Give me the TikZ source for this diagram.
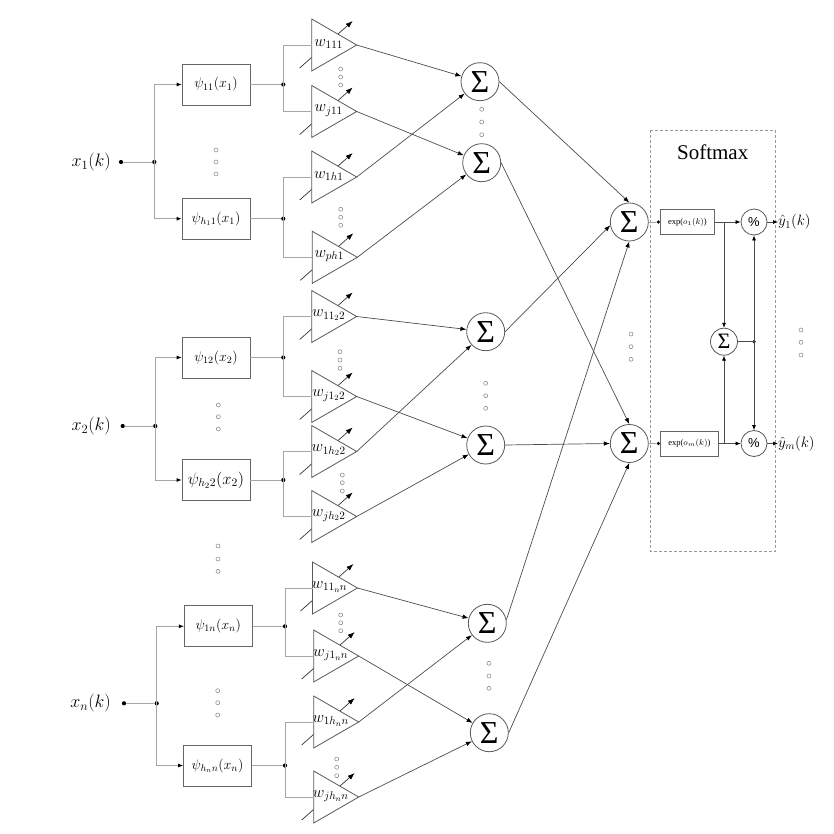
\RequirePackage{fix-cm}
\documentclass[tikz,border=0pt]{standalone}
\usepackage{fontspec}
\setmainfont{Liberation Serif}
\newfontfamily\pctfont{Liberation Sans}
\usetikzlibrary{arrows.meta}
\newcommand\wtri[4]{%
  \draw[adj] ({#2-12},{#3+23}) -- ({#2+41},{#3-24});
  \draw[tri] (#2,{#3-26}) -- ({#2+45},#3) -- (#2,{#3+26}) -- cycle;
  \coordinate (#1in) at (#2,#3);
  \coordinate (#1) at ({#2+45},#3);
  \node[wlab] (#1lab) at ({#2+17},{#3-1}) {$#4$};
}
\begin{document}
\begin{tikzpicture}[x=1pt,y=-1pt,
  wire/.style={draw=black!35, line width=0.8pt},
  conn/.style={draw=black!70, line width=0.7pt},
  arr/.style={-{Latex[length=6pt,width=4.5pt,color=black]}},
  sarr/.style={-{Latex[length=5pt,width=4pt,color=black]}},
  adj/.style={draw=black!80, line width=0.7pt, -{Latex[length=7pt,width=5pt,color=black]}},
  tri/.style={draw=black!65, line width=0.8pt, fill=white},
  wlab/.style={inner sep=0pt, font=\fontsize{16}{16}\selectfont},
  fbox/.style={draw=black!60, line width=0.8pt, minimum width=68pt, minimum height=41pt, inner sep=0pt, fill=white, font=\fontsize{14}{14}\selectfont},
  sumc/.style={circle, draw=black!65, line width=0.8pt, minimum size=38pt, inner sep=0pt, fill=white, font=\fontsize{32}{32}\selectfont},
  ssum/.style={circle, draw=black!65, line width=0.8pt, minimum size=27pt, inner sep=0pt, fill=white, font=\fontsize{22}{22}\selectfont},
  pct/.style={circle, draw=black!65, line width=0.8pt, minimum size=26pt, inner sep=0pt, fill=white, font=\pctfont\fontsize{13}{13}\selectfont},
  ebox/.style={draw=black!60, line width=0.8pt, minimum height=25pt, inner sep=0pt, fill=white, font=\fontsize{8.5}{8.5}\selectfont},
  jdot/.style={circle, fill=black, inner sep=0pt, minimum size=4.2pt},
  xlab/.style={anchor=east, inner sep=0pt, font=\fontsize{18}{18}\selectfont},
  ylab/.style={anchor=west, inner sep=0pt, font=\fontsize{15}{15}\selectfont},
  hdot/.style={draw=black!50, line width=0.5pt}
]
\useasboundingbox (0,0) rectangle (833,834);

% softmax frame
\draw[draw=black!40, line width=0.7pt, dash pattern=on 3pt off 2pt] (650.7,130) rectangle (775,551.7);
\node[font=\fontsize{21}{21}\selectfont] (smtitle) at (712.7,152) {Softmax};

% triangles (weights)
\wtri{T1}{311.7}{45}{w_{111}}
\wtri{T2}{311.7}{111.5}{w_{j11}}
\wtri{T3}{311.7}{177}{w_{1h1}}
\wtri{T4}{312.3}{257.3}{w_{ph1}}
\wtri{T5}{311.7}{316.5}{w_{11_2 2}}
\wtri{T6}{311.7}{396.5}{w_{j1_2 2}}
\wtri{T7}{311.7}{451.5}{w_{1h_2 2}}
\wtri{T8}{311.7}{516.5}{w_{jh_2 2}}
\wtri{T9}{312.5}{588}{w_{11_n n}}
\wtri{T10}{313.7}{656}{w_{j1_n n}}
\wtri{T11}{313.7}{722}{w_{1h_n n}}
\wtri{T12}{313.7}{797}{w_{jh_n n}}

% inputs
\node[xlab] (x1) at (111,162) {$x_1(k)$};
\node[xlab] (x2) at (111,426) {$x_2(k)$};
\node[xlab] (xn) at (111,703) {$x_n(k)$};
\node[jdot] (xd1) at (121,162) {};
\node[jdot] (xb1) at (154.3,162) {};
\node[jdot] (xd2) at (122.7,426) {};
\node[jdot] (xb2) at (155.3,426) {};
\node[jdot] (xdn) at (124,703.3) {};
\node[jdot] (xbn) at (156.7,703.3) {};

% wavelet boxes
\node[fbox] (p11) at (216,84.5) {$\psi_{11}(x_1)$};
\node[fbox] (ph1) at (216,218.7) {$\psi_{h_1 1}(x_1)$};
\node[fbox] (p12) at (216,357.5) {$\psi_{12}(x_2)$};
\node[fbox, font=\fontsize{16.5}{16.5}\selectfont] (ph2) at (216,480) {$\psi_{h_2 2}(x_2)$};
\node[fbox] (p1n) at (218.3,626.3) {$\psi_{1n}(x_n)$};
\node[fbox] (phn) at (217.5,765.5) {$\psi_{h_n n}(x_n)$};

% branch dots after boxes
\node[jdot] (b1) at (283.3,84.5) {};
\node[jdot] (b2) at (283.3,218.7) {};
\node[jdot] (b3) at (283.3,357.5) {};
\node[jdot] (b4) at (283.3,480) {};
\node[jdot] (b5) at (285,626.3) {};
\node[jdot] (b6) at (285,765.5) {};

\draw[wire] (xd1) -- (xb1);
\draw[wire] (xd2) -- (xb2);
\draw[wire] (xdn) -- (xbn);
\draw[wire,sarr] (xb1.center) |- (p11.west);
\draw[wire,sarr] (xb1.center) |- (ph1.west);
\draw[wire,sarr] (xb2.center) |- (p12.west);
\draw[wire,sarr] (xb2.center) |- (ph2.west);
\draw[wire,sarr] (xbn.center) |- (p1n.west);
\draw[wire,sarr] (xbn.center) |- (phn.west);

\draw[wire] (p11.east) -- (b1);
\draw[wire] (ph1.east) -- (b2);
\draw[wire] (p12.east) -- (b3);
\draw[wire] (ph2.east) -- (b4);
\draw[wire] (p1n.east) -- (b5);
\draw[wire] (phn.east) -- (b6);

\draw[wire] (b1.center) |- (T1in);
\draw[wire] (b1.center) |- (T2in);
\draw[wire] (b2.center) |- (T3in);
\draw[wire] (b2.center) |- (T4in);
\draw[wire] (b3.center) |- (T5in);
\draw[wire] (b3.center) |- (T6in);
\draw[wire] (b4.center) |- (T7in);
\draw[wire] (b4.center) |- (T8in);
\draw[wire] (b5.center) |- (T9in);
\draw[wire] (b5.center) |- (T10in);
\draw[wire] (b6.center) |- (T11in);
\draw[wire] (b6.center) |- (T12in);

% hidden sums
\node[sumc] (S1) at (480,81.7) {Σ};
\node[sumc] (S2) at (481.7,162.7) {Σ};
\node[sumc] (S3) at (485.7,331.7) {Σ};
\node[sumc] (S4) at (485.7,445) {Σ};
\node[sumc] (S5) at (487.3,623.3) {Σ};
\node[sumc] (S6) at (489.3,732.7) {Σ};
\node[sumc] (So1) at (629.3,222) {Σ};
\node[sumc] (Som) at (629.3,443.5) {Σ};

\draw[conn,arr] (T1) -- (S1);
\draw[conn,arr] (T3) -- (S1);
\draw[conn,arr] (T2) -- (S2);
\draw[conn,arr] (T4) -- (S2);
\draw[conn,arr] (T5) -- (S3);
\draw[conn,arr] (T7) -- (S3);
\draw[conn,arr] (T6) -- (S4);
\draw[conn,arr] (T8) -- (S4);
\draw[conn,arr] (T9) -- (S5);
\draw[conn,arr] (T11) -- (S5);
\draw[conn,arr] (T10) -- (S6);
\draw[conn,arr] (T12) -- (S6);

\draw[conn,arr] (S1.east) -- (So1.north);
\draw[conn,arr] (S3.east) -- (So1.190);
\draw[conn,arr] (S5.10) -- (So1.south);
\draw[conn,arr] (S2.east) -- (Som.north);
\draw[conn,arr] (S4.east) -- (Som.west);
\draw[conn,arr] (S6.east) -- (Som.south);

% softmax internals
\node[jdot, minimum size=3.6pt] (d1) at (658.3,222) {};
\node[jdot, minimum size=3.6pt] (dm) at (658.3,443.5) {};
\node[ebox, minimum width=54pt, anchor=west] (e1) at (660,222) {exp($o_1(k)$)};
\node[ebox, minimum width=58pt, anchor=west] (em) at (660,443.5) {exp($o_m(k)$)};
\node[pct] (pc1) at (754,222) {\%};
\node[pct] (pcm) at (754,443.5) {\%};
\node[ssum] (sm) at (724,341.7) {Σ};
\node[jdot, minimum size=3.6pt] (sd) at (754,341.7) {};
\coordinate (j1) at (724,222);
\coordinate (jm) at (724,443.5);
\node[ylab] (y1) at (778,222) {$\hat{y}_1(k)$};
\node[ylab] (ym) at (778,443.5) {$\hat{y}_m(k)$};

\draw[wire] (So1.east) -- (d1);
\draw[wire] (Som.east) -- (dm);
\draw[conn,sarr] (e1.east) -- (pc1.west);
\draw[conn,sarr] (em.east) -- (pcm.west);
\draw[conn,sarr] (j1) -- (sm.north);
\draw[conn,sarr] (jm) -- (sm.south);
\draw[conn] (sm.east) -- (sd.center);
\draw[conn,sarr] (sd.center) -- (pc1.south);
\draw[conn,sarr] (sd.center) -- (pcm.north);
\draw[conn,sarr] (pc1.east) -- (y1.west);
\draw[conn,sarr] (pcm.east) -- (ym.west);

% ellipsis dots
\foreach \px/\py in {216/150,216/162,216/174,
  340.7/69,340.7/77,340.7/85,
  481.7/109.3,481.7/122,481.7/134.7,
  340.7/209.3,340.7/217.3,340.7/225.3,
  340/351.7,340/360,340/368.3,
  218.3/405,218.3/416.7,218.3/429,
  485.7/383.3,485.7/395.7,485.7/408.3,
  631/334,631/346.7,631/359.3,
  342.3/475,342.3/482.7,342.3/491,
  218/546,218/559,218/571.3,
  340.7/615,340.7/622.7,340.7/630.7,
  217.7/690.7,217.7/702.7,217.7/715,
  489/663.3,489/676,489/688.3,
  336.7/759,336.7/767.3,336.7/775.7,
  801/330,801/342.3,801/355}
  \draw[hdot] (\px,\py) circle (2);
\end{tikzpicture}
\end{document}
